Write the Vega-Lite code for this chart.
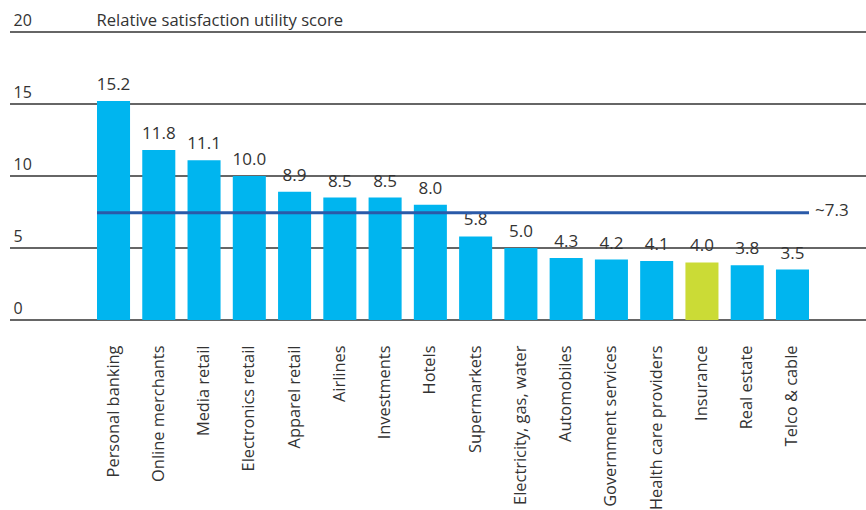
{
  "$schema": "https://vega.github.io/schema/vega-lite/v6.json",
  "width": 856,
  "height": 288,
  "autosize": {"type": "none"},
  "padding": {"left": 10, "top": 32, "right": 0, "bottom": 190},
  "background": "white",
  "config": {
    "view": {"stroke": null},
    "text": {"font": "Open Sans", "fontWeight": 400, "color": "#333333"}
  },
  "datasets": {
    "bars": [
      {"industry": "Personal banking", "score": 15.2, "group": "other"},
      {"industry": "Online merchants", "score": 11.8, "group": "other"},
      {"industry": "Media retail", "score": 11.1, "group": "other"},
      {"industry": "Electronics retail", "score": 10.0, "group": "other"},
      {"industry": "Apparel retail", "score": 8.9, "group": "other"},
      {"industry": "Airlines", "score": 8.5, "group": "other"},
      {"industry": "Investments", "score": 8.5, "group": "other"},
      {"industry": "Hotels", "score": 8.0, "group": "other"},
      {"industry": "Supermarkets", "score": 5.8, "group": "other"},
      {"industry": "Electricity, gas, water", "score": 5.0, "group": "other"},
      {"industry": "Automobiles", "score": 4.3, "group": "other"},
      {"industry": "Government services", "score": 4.2, "group": "other"},
      {"industry": "Health care providers", "score": 4.1, "group": "other"},
      {"industry": "Insurance", "score": 4.0, "group": "highlight"},
      {"industry": "Real estate", "score": 3.8, "group": "other"},
      {"industry": "Telco & cable", "score": 3.5, "group": "other"}
    ],
    "avg": [
      {"first": "Personal banking", "last": "Telco & cable", "value": 7.45, "label": "~7.3"}
    ],
    "grid": [
      {"tick": 0}, {"tick": 5}, {"tick": 10}, {"tick": 15}, {"tick": 20}
    ]
  },
  "layer": [
    {
      "data": {"name": "grid"},
      "mark": {"type": "rule", "color": "#333333", "strokeWidth": 1.3},
      "encoding": {
        "y": {"field": "tick", "type": "quantitative"}
      }
    },
    {
      "data": {"name": "bars"},
      "mark": {"type": "bar"},
      "encoding": {
        "x": {
          "field": "industry",
          "type": "nominal",
          "scale": {
            "domain": ["Personal banking", "Online merchants", "Media retail", "Electronics retail", "Apparel retail", "Airlines", "Investments", "Hotels", "Supermarkets", "Electricity, gas, water", "Automobiles", "Government services", "Health care providers", "Insurance", "Real estate", "Telco & cable"],
            "range": [87, 799],
            "paddingInner": 0.27,
            "paddingOuter": 0
          },
          "axis": {
            "title": null,
            "domain": false,
            "ticks": false,
            "grid": false,
            "labelAngle": -90,
            "labelAlign": "right",
            "labelBaseline": "middle",
            "labelPadding": 25,
            "labelFont": "Open Sans",
            "labelFontWeight": 400,
            "labelFontSize": 16.4,
            "labelColor": "#333333",
            "labelLimit": 300
          }
        },
        "y": {
          "field": "score",
          "type": "quantitative",
          "scale": {"domain": [0, 20], "nice": false},
          "axis": {
            "title": "Relative satisfaction utility score",
            "titleAngle": 0,
            "titleAlign": "left",
            "titleBaseline": "alphabetic",
            "titleX": 86,
            "titleY": -7,
            "titleFont": "Open Sans",
            "titleFontSize": 16.6,
            "titleFontWeight": 400,
            "titleColor": "#333333",
            "values": [0, 5, 10, 15, 20],
            "domain": false,
            "ticks": false,
            "grid": false,
            "labelAlign": "left",
            "labelBaseline": "alphabetic",
            "labelPadding": -3,
            "labelOffset": -7,
            "labelFont": "Open Sans",
            "labelFontWeight": 400,
            "labelFontSize": 16,
            "labelColor": "#333333"
          }
        },
        "color": {
          "field": "group",
          "type": "nominal",
          "scale": {"domain": ["other", "highlight"], "range": ["#00b5ef", "#cbdb36"]},
          "legend": null
        }
      }
    },
    {
      "data": {"name": "bars"},
      "mark": {"type": "text", "baseline": "alphabetic", "align": "center", "dy": -11, "fontSize": 17},
      "encoding": {
        "x": {"field": "industry", "type": "nominal"},
        "y": {"field": "score", "type": "quantitative"},
        "text": {"field": "score", "type": "quantitative", "format": ".1f"}
      }
    },
    {
      "data": {"name": "avg"},
      "mark": {"type": "rule", "color": "#2a5aa8", "strokeWidth": 3},
      "encoding": {
        "x": {"field": "first", "type": "nominal", "bandPosition": 0},
        "x2": {"field": "last", "bandPosition": 1},
        "y": {"field": "value", "type": "quantitative"}
      }
    },
    {
      "data": {"name": "avg"},
      "mark": {"type": "text", "align": "left", "baseline": "middle", "dx": 6, "dy": -2, "fontSize": 17},
      "encoding": {
        "x": {"field": "last", "type": "nominal", "bandPosition": 1},
        "y": {"field": "value", "type": "quantitative"},
        "text": {"field": "label"}
      }
    }
  ]
}
